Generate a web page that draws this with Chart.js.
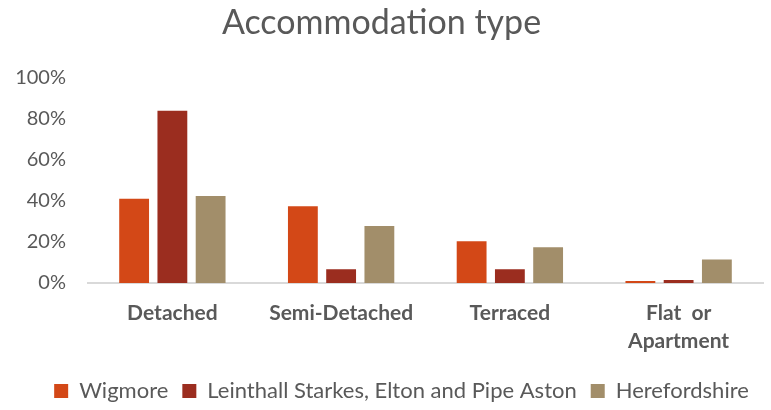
<!DOCTYPE html>
<html>
<head>
<meta charset="utf-8">
<script src="https://cdn.jsdelivr.net/npm/chart.js@4"></script>
<style>
  html, body { margin: 0; padding: 0; background: #fff; }
  #wrap { width: 771px; height: 410px; }
</style>
</head>
<body>
<div id="wrap"><canvas id="chart"></canvas></div>
<script>
// accommodation share by area (fractions)
const categories = ['Detached', 'Semi-Detached', 'Terraced', ['Flat  or', 'Apartment']]
const wigmore    = [0.41, 0.374, 0.203, 0.01]
const leinthall  = [0.84, 0.067, 0.067, 0.015]
const hereford   = [0.424, 0.278, 0.174, 0.114]
const seriesNames = ['Wigmore', 'Leinthall Starkes, Elton and Pipe Aston', 'Herefordshire']

const txt = '#595959'
const font = 'Lato, "Open Sans", sans-serif'

const ctx = document.getElementById('chart').getContext('2d')

// fixed legend height, and nudge it a bit to the right like the original
const legendTweak = {
    id: 'legendTweak',
    beforeUpdate(chart) {
        const lg = chart.legend
        if (lg && !lg._fixed) {
            const fit = lg.fit
            lg.fit = function () {
                fit.call(this)
                this.height = 44
            }
            lg._fixed = true
        }
    },
    afterLayout(chart) {
        const lg = chart.legend
        if (lg) {
            lg.left += 20
            lg.right += 20
        }
    }
}

new Chart(ctx, {
    type: 'bar',
    data: {
        labels: categories,
        datasets: [
            { label: seriesNames[0], data: wigmore,   backgroundColor: '#D34817' },
            { label: seriesNames[1], data: leinthall, backgroundColor: '#9B2D1F' },
            { label: seriesNames[2], data: hereford,  backgroundColor: '#A28E6A' }
        ]
    },
    options: {
        responsive: true,
        maintainAspectRatio: false,
        animation: false,
        datasets: {
            bar: { categoryPercentage: 0.68, barPercentage: 0.78 }
        },
        layout: { padding: { left: 0, right: 8, top: 3, bottom: 0 } },
        scales: {
            x: {
                afterFit: function (scale) { scale.height = 83 },
                grid: { display: false, drawTicks: false },
                border: { color: '#d9d9d9', width: 2 },
                ticks: {
                    color: txt,
                    padding: 16,
                    font: { family: font, size: 21, weight: 'bold', lineHeight: 1.35 }
                }
            },
            y: {
                min: 0,
                max: 1,
                afterFit: function (scale) { scale.width = 88 },
                grid: { display: false, drawTicks: false },
                border: { display: false },
                ticks: {
                    stepSize: 0.2,
                    color: txt,
                    padding: 22,
                    font: { family: font, size: 20 },
                    callback: function (value) {
                        return Math.round(value * 100) + '%'
                    }
                }
            }
        },
        plugins: {
            title: {
                display: true,
                text: 'Accommodation type',
                color: txt,
                font: { family: font, size: 34, weight: 'normal' },
                padding: { top: 0, bottom: 34 }
            },
            legend: {
                position: 'bottom',
                labels: {
                    color: txt,
                    boxWidth: 14,
                    boxHeight: 14,
                    padding: 14,
                    font: { family: font, size: 22 }
                }
            },
            tooltip: { enabled: false }
        }
    },
    plugins: [legendTweak]
})
</script>
</body>
</html>
